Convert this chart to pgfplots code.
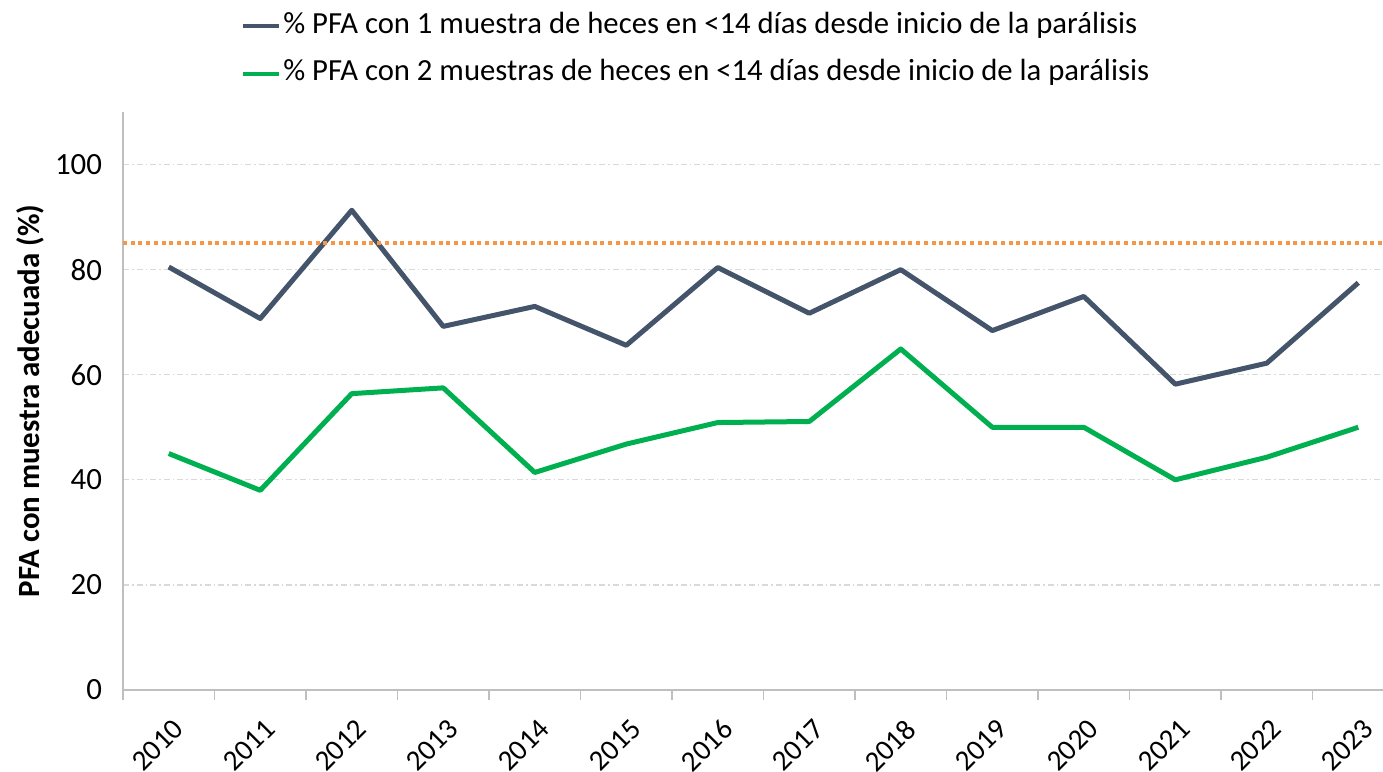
\documentclass[border=0pt]{standalone}
\usepackage{fontspec}
\setmainfont{Carlito}
\usepackage{pgfplots}
\pgfplotsset{compat=1.18}
\definecolor{sOne}{HTML}{44546A}
\definecolor{sTwo}{HTML}{00B050}
\definecolor{sOr}{HTML}{F79646}
\definecolor{axg}{HTML}{BFBFBF}
\definecolor{grd}{HTML}{D9D9D9}
\begin{document}
\begin{tikzpicture}
\begin{axis}[
  scale only axis,
  width=630bp, height=289bp,
  xmin=-0.5, xmax=13.27,
  ymin=0, ymax=110,
  axis x line*=bottom, axis y line*=left,
  axis line style={axg, line width=0.8bp, -},
  xtick={0,...,13},
  xticklabels={2010,2011,2012,2013,2014,2015,2016,2017,2018,2019,2020,2021,2022,2023},
  major x tick style={draw=none},
  major tick length=0pt,
  minor xtick={-0.5,0.5,...,13.5},
  minor x tick style={axg, line width=0.8bp},
  minor tick length=5bp,
  tick align=outside,
  xtick pos=bottom,
  x tick label style={yshift=-13.5bp, xshift=1.5bp, rotate=45, anchor=north east, inner sep=0pt, font=\fontsize{14.6}{18}\selectfont},
  ytick={0,20,...,100},
  ytick style={draw=none},
  y tick label style={font=\fontsize{15.5}{18}\selectfont, xshift=-7bp},
  /pgf/number format/assume math mode=true,
  ymajorgrids,
  major grid style={grd, line width=0.6bp, dash pattern=on 3bp off 1.5bp on 0.8bp off 1.5bp},
  ylabel={\bfseries PFA con muestra adecuada (\%)},
  ylabel style={font=\fontsize{15.5}{18}\selectfont, at={(axis description cs:0,0.5)}, anchor=center, yshift=46.5bp},
  clip=false,
  legend cell align=left,
  legend style={draw=none, fill=none, inner sep=0pt, outer sep=0pt,
    at={(0.0937,1.176)}, anchor=north west,
    font=\fontsize{15.4}{18}\selectfont,
    row sep=7.7bp,
    nodes={inner sep=1bp, text height=10.5bp, text depth=3.5bp}},
  legend image code/.code={\draw[#1, line width=2.1bp] (0bp,0bp) -- (18bp,0bp);},
]
\addplot[sOne, line width=2.5bp, line join=round] coordinates {
 (0,80.5) (1,70.7) (2,91.3) (3,69.2) (4,73.0) (5,65.6) (6,80.4)
 (7,71.7) (8,80.0) (9,68.4) (10,74.9) (11,58.2) (12,62.2) (13,77.5)};
\addlegendentry{\% PFA con 1 muestra de heces en <14 días desde inicio de la parálisis}
\addplot[sTwo, line width=2.5bp, line join=round] coordinates {
 (0,45.0) (1,38.0) (2,56.4) (3,57.5) (4,41.4) (5,46.8) (6,50.9)
 (7,51.1) (8,64.9) (9,50.0) (10,50.0) (11,40.0) (12,44.3) (13,50.0)};
\addlegendentry{\% PFA con 2 muestras de heces en <14 días desde inicio de la parálisis}
\addplot[sOr, line width=2bp, dash pattern=on 2bp off 1.85bp, forget plot] coordinates {(-0.5,85) (13.27,85)};
\end{axis}
\pgfresetboundingbox
\path (-61.5bp,-41bp) rectangle (630bp,345bp);
\end{tikzpicture}
\end{document}
